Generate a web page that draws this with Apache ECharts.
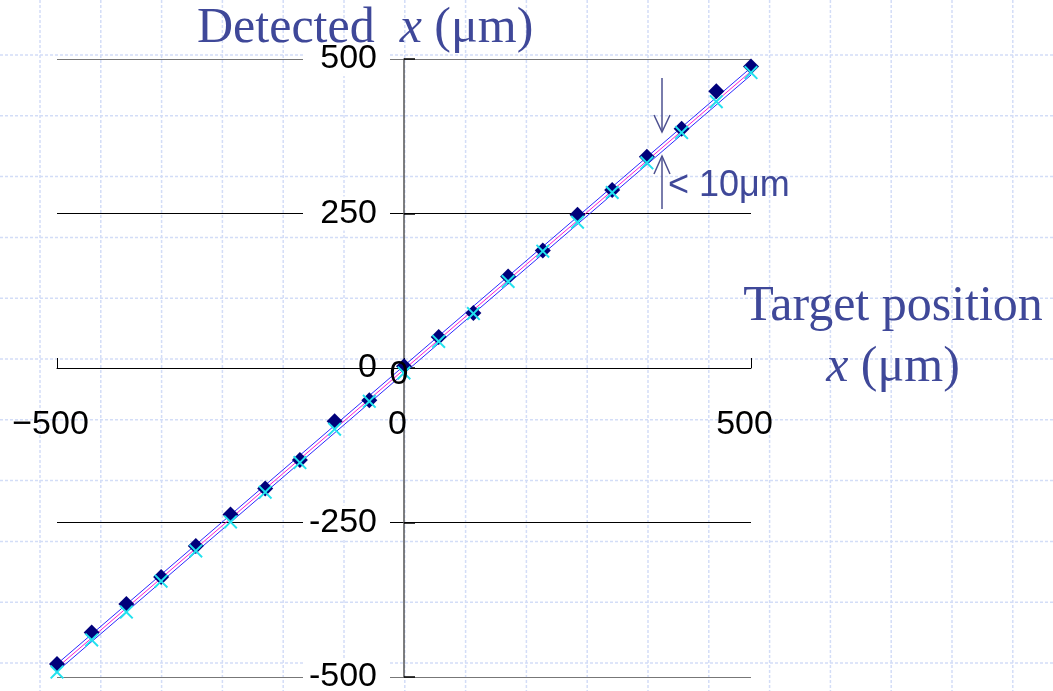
<!DOCTYPE html>
<html>
<head>
<meta charset="utf-8">
<script src="https://cdn.jsdelivr.net/npm/echarts@6.0.0/dist/echarts.min.js"></script>
<style>
    html, body { margin: 0; padding: 0; background: #fff; }
    #chart { width: 1053px; height: 691px; }
</style>
</head>
<body>
<div id="chart"></div>
<script>
// 目标位置 (µm)
const targetX = [-500, -450, -400, -350, -300, -250, -200, -150, -100, -50, 0,
                 50, 100, 150, 200, 250, 300, 350, 400, 450, 500];
// 检测值 - 菱形
const detectedDiamond = [-479, -428, -382, -338, -288, -237, -195, -149, -86, -52, 3,
                         50, 89, 148, 190, 248, 288, 342, 387, 448, 488];
// 检测值 - 叉号
const detectedCross = [-492, -440, -395, -345, -296, -249, -201, -153, -99, -54, -8,
                       43, 88, 140, 189, 236, 284, 332, 381, 431, 478];
// 拟合线及误差带 (端点)
const bandX = [-500, 500];
const bandUpper = [-479, 486];
const bandMid = [-485, 480];
const bandLower = [-491, 474];

const chart = echarts.init(document.getElementById('chart'));

const pairs = (xs, ys) => xs.map((x, i) => [x, ys[i]]);

// 背景虚线网格
const bgLines = [];
for (let k = 0; k < 18; k++) {
    const x = 40 + 60.8 * k;
    bgLines.push({ type: 'line', z: -10, silent: true,
        shape: { x1: x, y1: 0, x2: x, y2: 691 },
        style: { stroke: '#d3ddf7', lineWidth: 1.5, lineDash: [3, 2] } });
}
for (let k = 0; k < 11; k++) {
    const y = 55 + 60.8 * k;
    bgLines.push({ type: 'line', z: -10, silent: true,
        shape: { x1: 0, y1: y, x2: 1053, y2: y },
        style: { stroke: '#d3ddf7', lineWidth: 1.5, lineDash: [3, 2] } });
}

const titleColor = '#3f4899';
const serifRich = {
    a: { fontFamily: 'Liberation Serif', fontSize: 50, fill: titleColor },
    i: { fontFamily: 'Liberation Serif', fontSize: 50, fontStyle: 'italic', fill: titleColor }
};

const option = {
    backgroundColor: '#fff',
    animation: false,
    grid: {
        left: 57,
        right: 302,
        top: 59,
        bottom: 14,
        containLabel: false,
        outerBoundsMode: 'none'
    },
    xAxis: {
        type: 'value',
        min: -500,
        max: 500,
        interval: 500,
        position: 'bottom',
        offset: -309,
        axisLine: { onZero: false, lineStyle: { color: '#000', width: 1 } },
        axisTick: { inside: true, length: 10, lineStyle: { color: '#000' } },
        axisLabel: {
            margin: 40,
            fontFamily: 'Liberation Sans',
            fontSize: 34,
            color: '#000',
            padding: [0, 13, 0, 0],
            formatter: v => v < 0 ? '\u2212' + Math.abs(v) : String(v)
        },
        splitLine: { show: false }
    },
    yAxis: {
        type: 'value',
        min: -500,
        max: 500,
        interval: 250,
        position: 'left',
        offset: -347,
        axisLine: { onZero: false, lineStyle: { color: '#555', width: 1.5 } },
        axisTick: { inside: true, length: 11, lineStyle: { color: '#000', width: 1.5 } },
        axisLabel: {
            margin: 14,
            formatter: v => v === 0 ? '{z|0}' : '{b|' + v + '}',
            rich: {
                b: {
                    fontFamily: 'Liberation Sans', fontSize: 34, color: '#000',
                    backgroundColor: '#fff', width: 74, align: 'right',
                    padding: [0, 13, 0, 0]
                },
                z: {
                    fontFamily: 'Liberation Sans', fontSize: 34, color: '#000',
                    padding: [0, 13, 0, 0]
                }
            }
        },
        splitLine: {
            show: true,
            showMinLine: true,
            showMaxLine: true,
            lineStyle: { color: ['#777', '#000', '#000', '#000', '#777'], width: 1 }
        }
    },
    series: [
        {
            name: '上限',
            type: 'line',
            data: pairs(bandX, bandUpper),
            symbol: 'none',
            lineStyle: { color: '#2a2aff', width: 1 },
            z: 3
        },
        {
            name: '拟合',
            type: 'line',
            data: pairs(bandX, bandMid),
            symbol: 'none',
            lineStyle: { color: '#ff1acb', width: 1 },
            z: 3
        },
        {
            name: '下限',
            type: 'line',
            data: pairs(bandX, bandLower),
            symbol: 'none',
            lineStyle: { color: '#2a2aff', width: 1 },
            z: 3
        },
        {
            name: '检测值1',
            type: 'scatter',
            data: pairs(targetX, detectedDiamond),
            symbol: 'diamond',
            symbolSize: 16,
            itemStyle: { color: '#00007a', opacity: 1 },
            z: 4
        },
        {
            name: '检测值2',
            type: 'scatter',
            data: pairs(targetX, detectedCross),
            symbol: 'path://M0,1 L1,0 L5,4 L9,0 L10,1 L6,5 L10,9 L9,10 L5,6 L1,10 L0,9 L4,5 Z',
            symbolSize: 14,
            itemStyle: { color: '#22e2ee', opacity: 1 },
            z: 5
        }
    ],
    graphic: bgLines.concat([
        {
            type: 'text', z: 100, x: 197, y: 29,
            style: {
                text: '{a|Detected  }{i|x}{a| (\u03bcm)}',
                rich: serifRich,
                verticalAlign: 'middle'
            }
        },
        {
            type: 'text', z: 100, x: 893, y: 276,
            style: {
                text: '{a|Target position}\n{i|x}{a| (\u03bcm)}',
                rich: {
                    a: Object.assign({}, serifRich.a, { lineHeight: 61 }),
                    i: Object.assign({}, serifRich.i, { lineHeight: 61 })
                },
                align: 'center',
                verticalAlign: 'top'
            }
        },
        {
            type: 'text', z: 100, x: 668, y: 186,
            style: {
                text: '< 10\u03bcm',
                font: '36px "Liberation Sans"',
                fill: titleColor,
                verticalAlign: 'middle'
            }
        },
        {
            type: 'text', z: 100, x: 399, y: 375,
            style: {
                text: '0',
                font: '34px "Liberation Sans"',
                fill: '#000',
                align: 'center',
                verticalAlign: 'middle'
            }
        },
        // 箭头
        {
            type: 'polyline', z: 100,
            shape: { points: [[662, 78], [662, 132]] },
            style: { stroke: '#4d5090', lineWidth: 1.5, fill: null }
        },
        {
            type: 'polyline', z: 100,
            shape: { points: [[654, 115], [662, 132], [670, 115]] },
            style: { stroke: '#4d5090', lineWidth: 1.5, fill: null }
        },
        {
            type: 'polyline', z: 100,
            shape: { points: [[662, 156], [662, 209]] },
            style: { stroke: '#4d5090', lineWidth: 1.5, fill: null }
        },
        {
            type: 'polyline', z: 100,
            shape: { points: [[654, 174], [662, 156], [670, 174]] },
            style: { stroke: '#4d5090', lineWidth: 1.5, fill: null }
        }
    ])
};

chart.setOption(option);

window.addEventListener('resize', function() {
    chart.resize();
});
</script>
</body>
</html>
